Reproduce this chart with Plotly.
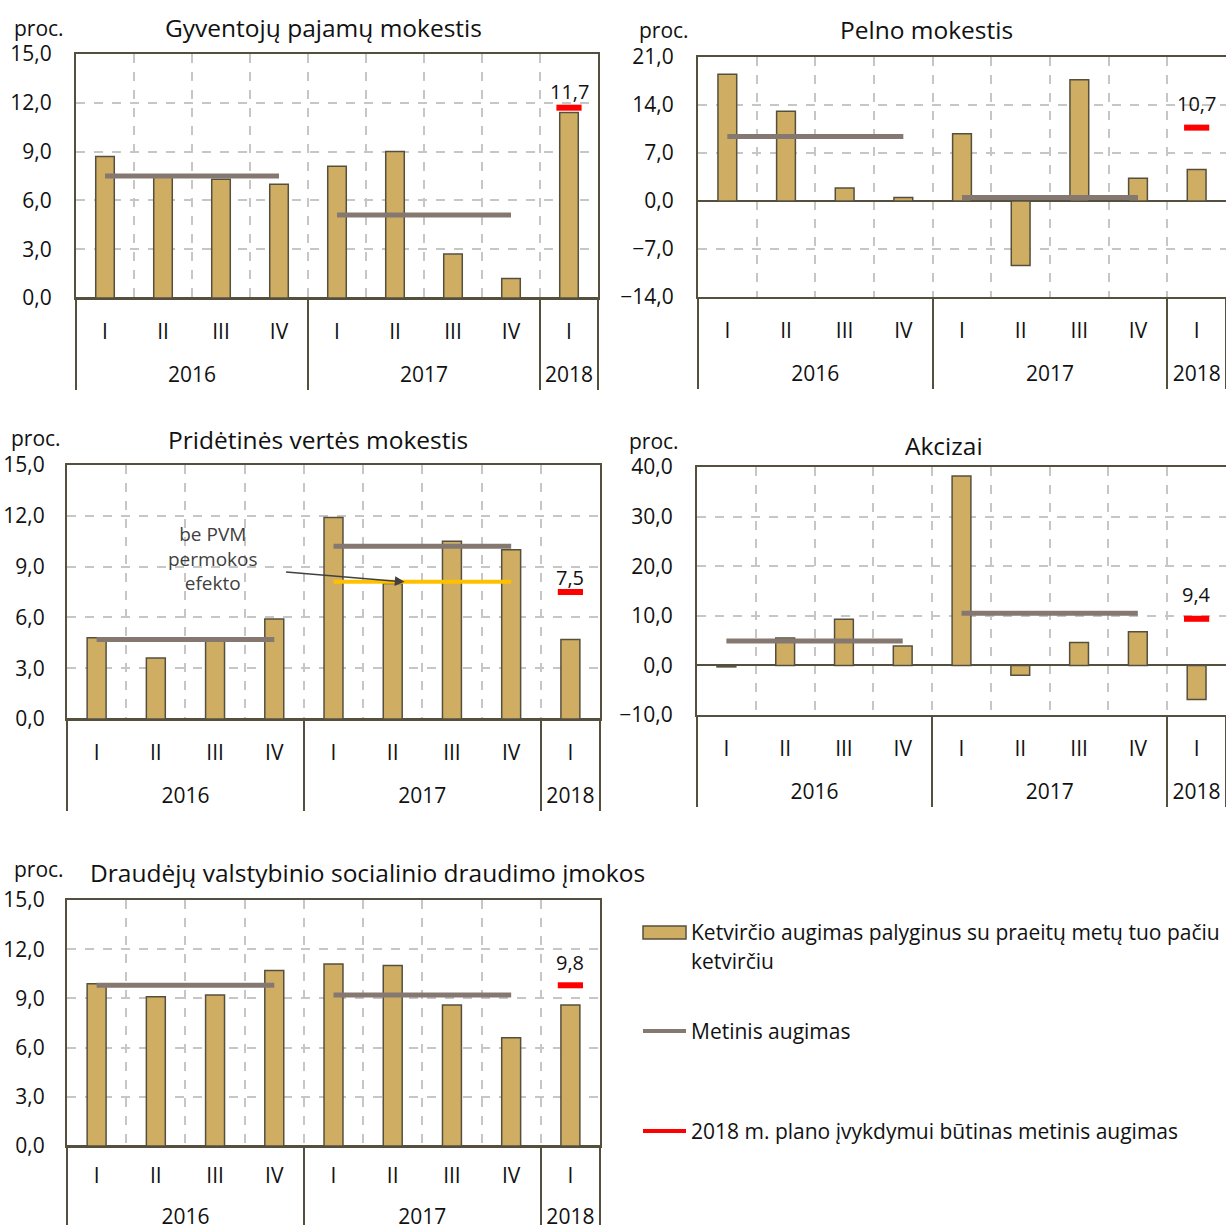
import plotly.graph_objects as go

# ---------------- data ----------------
years = ["2016", "2016", "2016", "2016", "2017", "2017", "2017", "2017", "2018"]
quarters = ["I", "II", "III", "IV", "I", "II", "III", "IV", "I"]
annual_years = ["2016", "2017"]
plan_year = "2018"

titles = [
    "Gyventojų pajamų mokestis",
    "Pelno mokestis",
    "Pridėtinės vertės mokestis",
    "Akcizai",
    "Draudėjų valstybinio socialinio draudimo įmokos",
]

gpm_quarterly = [8.7, 7.5, 7.3, 7.0, 8.1, 9.0, 2.7, 1.2, 11.4]
gpm_annual = [7.5, 5.1]
gpm_plan = 11.7

pelno_quarterly = [18.5, 13.1, 1.9, 0.5, 9.8, -9.4, 17.7, 3.3, 4.6]
pelno_annual = [9.4, 0.5]
pelno_plan = 10.7

pvm_quarterly = [4.8, 3.6, 4.7, 5.9, 11.9, 8.0, 10.5, 10.0, 4.7]
pvm_annual = [4.7, 10.2]
pvm_annual_2017_adjusted = 8.1
pvm_plan = 7.5

akc_quarterly = [-0.3, 5.5, 9.3, 3.9, 38.2, -2.0, 4.6, 6.8, -6.9]
akc_annual = [4.9, 10.5]
akc_plan = 9.4

vsd_quarterly = [9.9, 9.1, 9.2, 10.7, 11.1, 11.0, 8.6, 6.6, 8.6]
vsd_annual = [9.8, 9.2]
vsd_plan = 9.8

y_ranges = [[0, 15], [-14, 21], [0, 15], [-10, 40], [0, 15]]
y_dticks = [3, 7, 3, 10, 3]

legend_labels = [
    "Ketvirčio augimas palyginus su praeitų metų tuo pačiu",
    "ketvirčiu",
    "Metinis augimas",
    "2018 m. plano įvykdymui būtinas metinis augimas",
]
pvm_note = "be PVM<br>permokos<br>efekto"
unit_label = "proc."

# ---------------- style ----------------
W, H = 1226, 1225
FONT = "Open Sans"
FS = 21
BAR = "#CFAE64"
EDGE = "#55503E"
ANN = "#857870"
RED = "#FF0000"
YEL = "#FFC000"
GRID = "#C6C6C6"
TXT = "#111111"

# pixel boxes of each plot area: (left, right, top, bottom)
boxes = [
    (76, 598, 54, 298),
    (698, 1226, 57, 297),
    (67, 600, 465, 719),
    (697, 1226, 467, 715),
    (67, 600, 900, 1146),
]
title_pos = [(323, 27), (926, 30), (318, 439), (944, 446), (367, 872)]
proc_pos = [(12, 28), (637, 30), (9, 438), (627, 441), (12, 869)]
plan_label_shift = [16, 24, 15, 24, 23]
y_label_standoff = [18, 18, 16, 18, 16]
x_label_standoff = [14, 14, 14, 14, 10]
right_edge_line = [True, False, True, False, True]
# invisible spacer under the quarter labels (pushes the year row down)
spacers = ["\u00a0", "\u00a0", "\u00a0", "\u00a0",
           "<span style='font-size:1px'>\u00a0</span>"]

panels = [
    (gpm_quarterly, gpm_annual, gpm_plan),
    (pelno_quarterly, pelno_annual, pelno_plan),
    (pvm_quarterly, pvm_annual, pvm_plan),
    (akc_quarterly, akc_annual, akc_plan),
    (vsd_quarterly, vsd_annual, vsd_plan),
]


def fx(px):
    return px / W


def fy(py):
    return 1 - py / H


def fmt(v):
    return f"{v:.1f}".replace(".", ",")


fig = go.Figure()
layout = dict(
    width=W, height=H, margin=dict(l=0, r=0, t=0, b=0),
    paper_bgcolor="white", plot_bgcolor="white",
    showlegend=False, separators=", ", bargap=0.68,
    font=dict(family=FONT, size=FS, color=TXT),
)
annotations = []
shapes = []

for i, (q, annual, plan) in enumerate(panels):
    n = i + 1
    xa = "x" if n == 1 else f"x{n}"
    ya = "y" if n == 1 else f"y{n}"

    def qlab(qq, sp=spacers[i]):
        return qq + "<br>" + sp

    quarter_labels = [qlab(qq) for qq in quarters]
    fig.add_trace(go.Bar(
        x=[years, quarter_labels], y=q, xaxis=xa, yaxis=ya,
        marker=dict(color=BAR, line=dict(color=EDGE, width=1.5)),
    ))
    for yr, val in zip(annual_years, annual):
        fig.add_trace(go.Scatter(
            x=[[yr, yr], [qlab("I"), qlab("IV")]], y=[val, val],
            xaxis=xa, yaxis=ya,
            mode="lines", line=dict(color=ANN, width=5),
        ))
    if n == 3:
        fig.add_trace(go.Scatter(
            x=[["2017", "2017"], [qlab("I"), qlab("IV")]],
            y=[pvm_annual_2017_adjusted, pvm_annual_2017_adjusted],
            xaxis=xa, yaxis=ya, mode="lines", line=dict(color=YEL, width=4),
        ))
    fig.add_trace(go.Scatter(
        x=[[plan_year], [qlab("I")]], y=[plan], xaxis=xa, yaxis=ya,
        mode="markers",
        marker=dict(symbol="line-ew", size=18, color=RED,
                    line=dict(color=RED, width=6)),
    ))
    annotations.append(dict(
        text=fmt(plan), x=len(years) - 1, y=plan, xref=xa, yref=ya,
        yshift=plan_label_shift[i], xanchor="center", yanchor="middle",
        showarrow=False, font=dict(size=FS - 1, color=TXT),
    ))

    L, R, T, B = boxes[i]
    layout["xaxis" if n == 1 else f"xaxis{n}"] = dict(
        type="multicategory", domain=[fx(L), min(fx(R), 1.0)], anchor=ya,
        range=[-0.5, 8.5], autorange=False,
        showline=True, mirror=True, linecolor=EDGE, linewidth=2,
        showgrid=True, gridcolor=GRID, griddash="dash", gridwidth=1.5,
        tickson="boundaries", ticks="", showdividers=True,
        dividercolor=EDGE, dividerwidth=1.5,
        tickfont=dict(size=FS, color=TXT),
        ticklabelstandoff=x_label_standoff[i],
        automargin=False,
    )
    layout["yaxis" if n == 1 else f"yaxis{n}"] = dict(
        domain=[fy(B), fy(T)], anchor=xa, range=y_ranges[i],
        tick0=y_ranges[i][0], dtick=y_dticks[i], tickformat=".1f",
        showline=True, mirror=right_edge_line[i], linecolor=EDGE, linewidth=2,
        showgrid=True, gridcolor=GRID, griddash="dash", gridwidth=1.5,
        zeroline=True, zerolinecolor=EDGE, zerolinewidth=1.5,
        ticks="", ticklabelstandoff=y_label_standoff[i],
        tickfont=dict(size=FS, color=TXT),
        automargin=False,
    )
    tx, ty = title_pos[i]
    annotations.append(dict(
        text=titles[i], x=fx(tx), y=fy(ty), xref="paper", yref="paper",
        xanchor="center", yanchor="middle", showarrow=False,
        font=dict(size=24.5, color=TXT),
    ))
    px_, py_ = proc_pos[i]
    annotations.append(dict(
        text=unit_label, x=fx(px_), y=fy(py_), xref="paper", yref="paper",
        xanchor="left", yanchor="middle", showarrow=False,
        font=dict(size=FS, color=TXT),
    ))

# PVM note with arrow
annotations.append(dict(
    text=pvm_note, x=fx(213), y=fy(558), xref="paper", yref="paper",
    xanchor="center", yanchor="middle", showarrow=False,
    font=dict(size=19, color="#404040"),
))
annotations.append(dict(
    text="", x=5.2, y=pvm_annual_2017_adjusted, xref="x3", yref="y3",
    ax=-120, ay=-10, showarrow=True, arrowhead=2, arrowsize=1.3,
    arrowwidth=1.5, arrowcolor="#404040", standoff=0,
))

# legend (manual)
shapes.append(dict(type="rect", xref="paper", yref="paper",
                   x0=fx(643), x1=fx(686), y0=fy(939), y1=fy(926),
                   fillcolor=BAR, line=dict(color=EDGE, width=1.5)))
shapes.append(dict(type="line", xref="paper", yref="paper",
                   x0=fx(643), x1=fx(686), y0=fy(1031), y1=fy(1031),
                   line=dict(color=ANN, width=4)))
shapes.append(dict(type="line", xref="paper", yref="paper",
                   x0=fx(643), x1=fx(686), y0=fy(1131), y1=fy(1131),
                   line=dict(color=RED, width=4)))
for txt, ypx in zip(legend_labels, [932, 961, 1031, 1131]):
    annotations.append(dict(
        text=txt, x=fx(689), y=fy(ypx), xref="paper", yref="paper",
        xanchor="left", yanchor="middle", showarrow=False,
        font=dict(size=FS, color=TXT),
    ))

layout["annotations"] = annotations
layout["shapes"] = shapes
fig.update_layout(**layout)
fig.write_html("out.html")
